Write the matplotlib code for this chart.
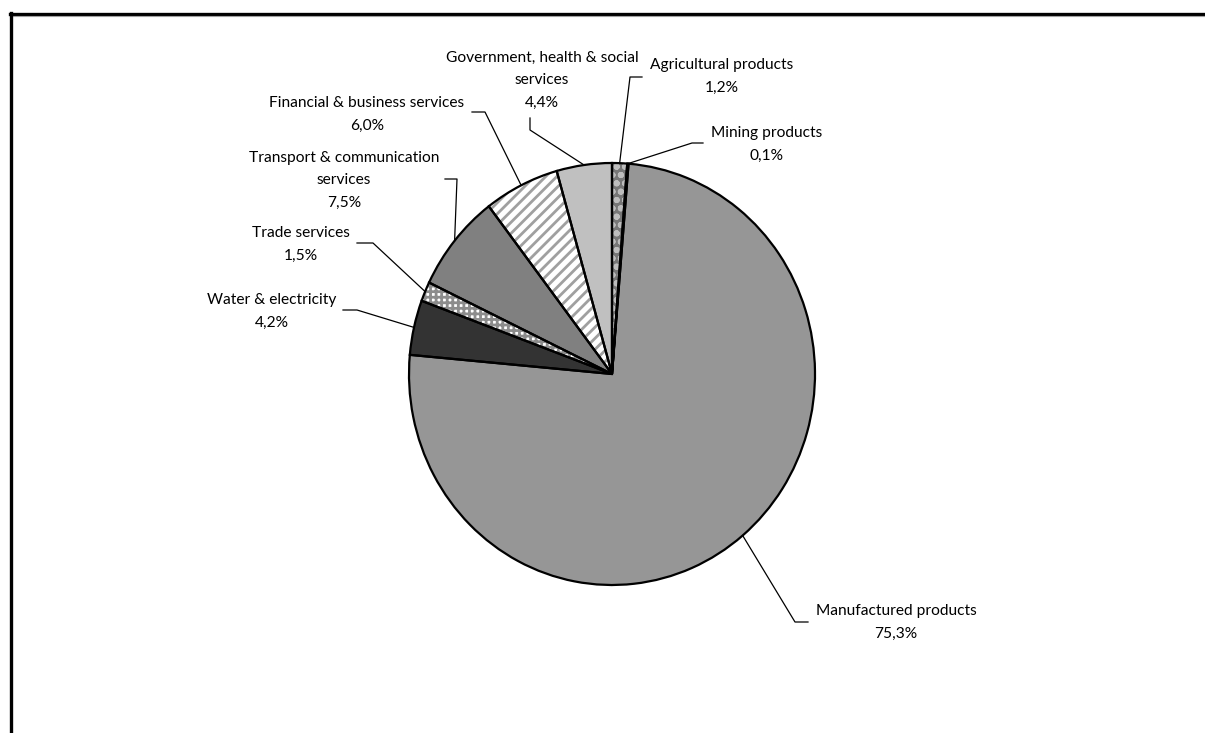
import matplotlib
matplotlib.use("Agg")
import matplotlib.pyplot as plt
from matplotlib.lines import Line2D
import numpy as np

# Shares of value added by sector (per cent), clockwise from 12 o'clock
categories = [
    "Agricultural products",
    "Mining products",
    "Manufactured products",
    "Water & electricity",
    "Trade services",
    "Transport & communication\nservices",
    "Financial & business services",
    "Government, health & social\nservices",
]
shares = [1.2, 0.1, 75.3, 4.2, 1.5, 7.5, 6.0, 4.4]

# Fill styling per sector
face_colors = ["#777777", "#c0c0c0", "#969696", "#333333",
               "#ffffff", "#808080", "#ffffff", "#c0c0c0"]
hatches = ["oo", None, None, None, "+++", None, "///", None]
hatch_colors = ["#bdbdbd", None, None, None, "#8c8c8c", None, "#a0a0a0", None]

W, H = 1205, 733
DPI = 100
fig = plt.figure(figsize=(W / DPI, H / DPI), dpi=DPI)
fig.patch.set_facecolor("white")

# Pie geometry in pixels
CX, CY, RX, RY = 612, 374, 203, 211
ax = fig.add_axes([(CX - RX) / W, 1 - (CY + RY) / H, 2 * RX / W, 2 * RY / H])

plt.rcParams["hatch.linewidth"] = 2.0

# Filled / hatched layer
wedges, _ = ax.pie(shares, startangle=90, counterclock=False,
                   colors=face_colors, radius=1.0,
                   wedgeprops=dict(linewidth=0))
for w, h, hc in zip(wedges, hatches, hatch_colors):
    if h:
        w.set_hatch(h)
        w.set_edgecolor(hc)
        w.set_linewidth(0)
# Outline layer
outl, _ = ax.pie(shares, startangle=90, counterclock=False,
                 radius=1.0,
                 wedgeprops=dict(fill=False, edgecolor="black",
                                 linewidth=1.6, joinstyle="miter"))
ax.set_aspect("auto")
ax.set_xlim(-1, 1)
ax.set_ylim(-1, 1)
ax.axis("off")


def px2data(px, py):
    return (px - CX) / RX, (CY - py) / RY


# Label layout: (centre x, first line y), leader start, leader elbow (pixels)
label_pos = [(722, 65), (767, 133), (896, 611), (272, 300),
             (301, 233), (344, 158), (367, 103), (542, 58)]
leader_start = [(642, 77), (703, 143), (808, 622), (343, 310),
                (357, 243), (445, 179), (472, 112), (530, 118)]
leader_elbow = [(630, 77), (692, 143), (795, 622), (357, 310),
                (373, 243), (457, 179), (485, 112), (530, 130)]
LINE_PITCH = 22.5

total = sum(shares)
cum = 0.0
for i, (cat, val) in enumerate(zip(categories, shares)):
    mid = cum + val / 2.0
    cum += val
    ang = np.deg2rad(90 - 360.0 * mid / total)
    ex, ey = np.cos(ang), np.sin(ang)
    sx, sy = px2data(*leader_start[i])
    bx, by = px2data(*leader_elbow[i])
    ax.add_line(Line2D([sx, bx, ex], [sy, by, ey], color="black",
                       linewidth=0.9, clip_on=False))
    lines = cat.split("\n") + [f"{val:.1f}".replace(".", ",") + "%"]
    lx, ly = label_pos[i]
    for k, s in enumerate(lines):
        tx, ty = px2data(lx, ly + k * LINE_PITCH)
        ax.text(tx, ty, s, ha="center", va="center", fontsize=11.2,
                family="Lato", color="black", clip_on=False)

# Chart frame (extends past the right and bottom of the canvas)
fig.add_artist(Line2D([10 / W, 1.0], [1 - 14 / H, 1 - 14 / H],
                      transform=fig.transFigure, color="black", linewidth=2.4))
fig.add_artist(Line2D([10 / W, 1.0], [1 - 16 / H, 1 - 16 / H],
                      transform=fig.transFigure, color="#a0a0a0", linewidth=0.8))
fig.add_artist(Line2D([10.5 / W, 10.5 / W], [1 - 13 / H, 0.0],
                      transform=fig.transFigure, color="black", linewidth=2.4))

fig.savefig("out.png", dpi=DPI, facecolor="white")
